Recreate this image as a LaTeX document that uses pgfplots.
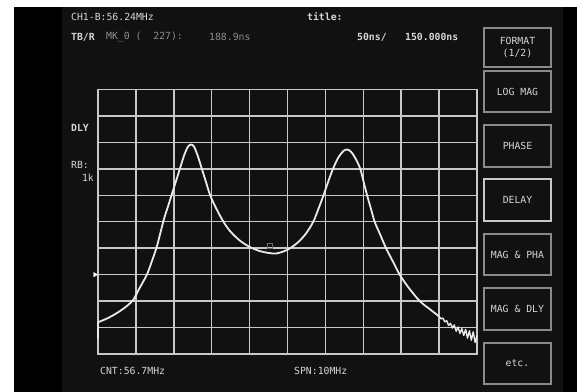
\documentclass[border=0pt]{standalone}
\usepackage{pgfplots}
\pgfplotsset{compat=1.18}
\usepackage{fontspec}
\setmonofont{DejaVu Sans Mono}
\definecolor{gridc}{HTML}{C8C8C8}
\definecolor{curvec}{HTML}{EAEAEA}
\definecolor{txt}{HTML}{D6D6D6}
\definecolor{dimtxt}{HTML}{8E8E8E}
\definecolor{boxc}{HTML}{8A8A8A}
\definecolor{inner}{HTML}{111111}
\begin{document}
\begin{tikzpicture}
\path[use as bounding box] (0,0) rectangle (577bp,392bp);
\begin{scope}[x=1bp,y=-1bp,shift={(0bp,392bp)}]
  \fill[white] (0,0) rectangle (577,392);
  \fill[black] (14,7) rectangle (577,392);
  \fill[inner] (62,7) rectangle (563,392);
  \begin{scope}[font=\ttfamily\fontsize{9.8bp}{11bp}\selectfont, text=txt, inner sep=0pt]
    \node[anchor=west] at (71,17) {CH1-B:56.24MHz};
    \node[anchor=west] at (307,17) {\bfseries title:};
    \node[anchor=west] at (71,37) {\bfseries TB/R};
    \node[anchor=west, text=dimtxt] at (106,37) {MK\_0 (\ \ 227):};
    \node[anchor=west, text=dimtxt] at (209,37) {188.9ns};
    \node[anchor=west] at (357,37) {\bfseries 50ns/};
    \node[anchor=west] at (405,37) {\bfseries 150.000ns};
    \node[anchor=west] at (71,128) {\bfseries DLY};
    \node[anchor=west] at (71,165) {RB:};
    \node[anchor=east] at (94,178) {1k};
    \node[anchor=west] at (100,371) {CNT:56.7MHz};
    \node[anchor=west] at (294,371) {SPN:10MHz};
    % buttons
    \draw[boxc, line width=1.2bp] (484,28) rectangle (551,67);
    \node[align=center] at (517.5,47.5) {FORMAT\\[1bp](1/2)};
    \draw[boxc, line width=1.2bp] (484,71) rectangle (551,112);
    \node at (517.5,91.5) {LOG MAG};
    \draw[boxc, line width=1.2bp] (484,125) rectangle (551,167);
    \node at (517.5,146) {PHASE};
    \draw[gridc, line width=2.2bp] (484,179) rectangle (551,221);
    \node at (517.5,200) {DELAY};
    \draw[boxc, line width=1.2bp] (484,234) rectangle (551,275);
    \node at (517.5,254.5) {MAG \& PHA};
    \draw[boxc, line width=1.2bp] (484,288) rectangle (551,330);
    \node at (517.5,309) {MAG \& DLY};
    \draw[boxc, line width=1.2bp] (484,343) rectangle (551,384);
    \node at (517.5,363.5) {etc.};
  \end{scope}
\end{scope}
\begin{axis}[
  at={(98bp,38bp)}, anchor=south west,
  scale only axis, width=379bp, height=264.5bp,
  xmin=0, xmax=10, ymin=0, ymax=10,
  xtick={0,...,10}, ytick={0,...,10},
  xticklabels={}, yticklabels={},
  major tick length=0pt,
  grid=major,
  grid style={line width=1.5bp, color=gridc},
  axis line style={line width=1.6bp, color=gridc},
  clip=false,
]
\addplot[line width=1.8bp, color=curvec, line join=round] coordinates {
(0,0.55) (0,1.2)};
\addplot[line width=1.8bp, color=curvec, smooth, line join=round] coordinates {
(0,1.2) (0.25,1.35) (0.5,1.55) (0.75,1.8) (0.93,2.05) (1.1,2.5) (1.29,3.0)
(1.42,3.5) (1.55,4.05) (1.65,4.6) (1.74,5.1) (1.84,5.55) (1.94,6.0) (2.05,6.5)
(2.16,7.0) (2.27,7.5) (2.37,7.83) (2.45,7.92) (2.53,7.85) (2.63,7.5)
(2.74,7.0) (2.85,6.5) (2.96,6.0) (3.12,5.5) (3.31,5.0) (3.5,4.62) (3.75,4.28)
(4.0,4.05) (4.25,3.9) (4.5,3.82) (4.7,3.8) (4.9,3.88) (5.07,4.0) (5.3,4.25)
(5.5,4.58) (5.68,5.0) (5.82,5.5) (5.95,6.0) (6.07,6.5) (6.2,7.0) (6.35,7.45)
(6.48,7.68) (6.58,7.73) (6.68,7.64) (6.8,7.38) (6.92,7.0) (7.01,6.5) (7.1,6.0)
(7.2,5.5) (7.3,5.0) (7.45,4.5) (7.6,4.0) (7.78,3.5) (7.96,3.0) (8.2,2.5)
(8.49,2.0) (8.75,1.7) (9.0,1.42)};
\addplot[line width=1.4bp, color=curvec, line join=round] coordinates {
(9.00,1.42) (9.05,1.33) (9.10,1.36) (9.15,1.22) (9.20,1.26) (9.25,1.08)
(9.30,1.16) (9.35,0.98) (9.40,1.10) (9.45,0.86) (9.50,1.02) (9.55,0.78)
(9.60,0.96) (9.65,0.70) (9.70,0.93) (9.75,0.60) (9.80,0.88) (9.85,0.52)
(9.90,0.84) (9.95,0.44) (10.0,0.70)};
\addplot[only marks, mark=square, mark size=2.3bp,
  mark options={draw=gray!85!black, line width=0.8bp}] coordinates {(4.54,4.09)};
\addplot[only marks, mark=triangle*, mark size=2.5bp,
  mark options={rotate=-90, fill=white, draw=white}] coordinates {(-0.08,3)};
\end{axis}
\end{tikzpicture}
\end{document}
